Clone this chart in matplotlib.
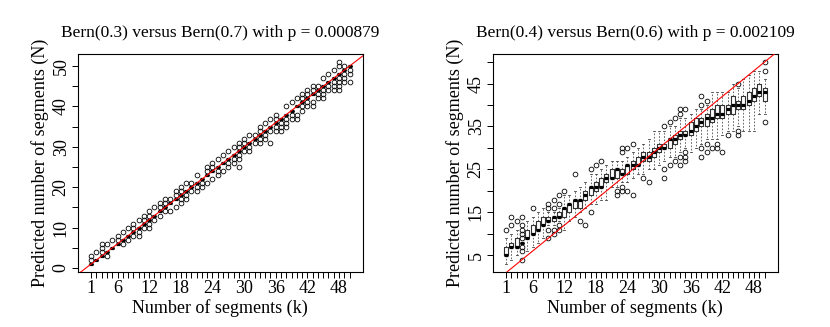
import numpy as np
import matplotlib
matplotlib.use("Agg")
import matplotlib.pyplot as plt

# ---- data ----
k_values = list(range(1, 51))
xtick_labels = {1: "1", 6: "6", 12: "12", 18: "18", 24: "24", 30: "30", 36: "36", 42: "42", 48: "48"}

# left panel: Bern(0.3) vs Bern(0.7) -- boxes are flat at the median
left_title = "Bern(0.3) versus Bern(0.7) with p = 0.000879"
left_med = [1, 2, 3, 4, 5, 6, 7, 8, 9, 10, 11, 12, 13, 14, 15, 16, 17, 18, 19, 20,
            21, 22, 23, 24, 25, 26, 27, 28, 29, 30, 31, 32, 33, 34, 35, 36, 37, 38, 39, 40,
            41, 42, 43, 44, 45, 46, 47, 48, 49, 50]
left_fliers = [
    [2, 3], [4], [4, 5, 6], [3, 6], [7], [7, 8], [6, 9], [7, 10], [8, 10, 11], [8, 9, 12],
    [10, 12, 13], [10, 11, 13, 14], [12, 15], [13, 15, 16], [14, 16, 17], [14, 17],
    [15, 18, 19], [16, 17, 19, 20], [17, 18, 21], [19, 21], [19, 20, 23], [20, 21],
    [21, 24, 25], [22, 25, 26], [23, 24, 27], [24, 28], [25, 26, 29], [26, 27, 30],
    [25, 27, 28, 30, 31], [29, 31, 32], [29, 30, 33], [31, 33], [31, 32, 34, 35],
    [32, 33, 36], [31, 34, 37], [34, 35, 37, 38], [34, 35, 36], [35, 36, 37, 40],
    [37, 38, 41], [37, 38, 42], [39, 40, 42, 43], [40, 41, 43, 44], [40, 41, 44, 45],
    [42, 43, 45], [42, 43, 44, 47], [44, 45, 48], [44, 45, 46, 49],
    [44, 45, 46, 47, 50, 51], [46, 47, 48, 50], [46, 48, 49],
]

# right panel: Bern(0.4) vs Bern(0.6)
right_title = "Bern(0.4) versus Bern(0.6) with p = 0.002109"
right_med = [5, 7, 7, 8, 9, 10, 11, 12, 13, 14, 14, 16, 17, 18, 18, 19, 21, 21, 21, 23,
             23, 25, 24, 26, 26, 26, 28, 28, 29, 30, 30, 32, 32, 33, 33, 34, 35, 36, 37, 37,
             38, 38, 39, 40, 40, 40, 41, 42, 43, 43]
right_q1 = [5, 7, 7, 8, 9, 10, 11, 12, 13, 13, 14, 14, 15, 16, 16, 18, 19, 20, 21, 22,
            23, 23, 24, 24, 25, 26, 27, 27, 28, 29, 30, 30, 31, 32, 33, 33, 34, 35, 35, 36,
            37, 37, 38, 38, 39, 39, 40, 41, 42, 41]
right_q3 = [7, 8, 9, 8, 11, 12, 13, 14, 14, 14, 15, 16, 17, 18, 18, 20, 21, 22, 23, 24,
            25, 25, 25, 26, 27, 28, 29, 29, 30, 31, 31, 32, 33, 34, 34, 36, 37, 37, 38, 39,
            40, 40, 40, 42, 41, 42, 43, 44, 45, 44]
right_lo = [3, 4, 5, 8, 6, 7, 8, 9, 12, 12, 13, 11, 13, 14, 15, 16, 17, 17, 18, 18,
            21, 21, 22, 22, 23, 24, 24, 25, 25, 26, 27, 28, 28, 29, 30, 29, 30, 31, 32, 32,
            32, 33, 34, 34, 35, 34, 34, 34, 38, 38]
right_hi = [9, 10, 11, 8, 13, 14, 15, 16, 15, 15, 16, 19, 19, 20, 21, 22, 24, 24, 25, 26,
            27, 27, 27, 28, 29, 30, 31, 32, 34, 34, 34, 35, 35, 37, 37, 38, 39, 39, 40, 43,
            43, 43, 43, 45, 44, 46, 47, 48, 48, 46]
right_fliers = [
    [11], [12, 14], [13], [4, 6, 7, 9, 10, 11, 12, 14], [], [16], [], [], [9, 11, 16, 17],
    [10, 11, 16, 18], [11, 12, 17, 19], [20], [], [24], [13], [12], [15, 25], [26], [27],
    [], [], [19, 20], [20, 21, 29, 30], [20, 30], [19, 31], [], [23], [22], [], [],
    [23, 25, 35], [26, 36], [27, 37], [26, 28, 38, 39], [27, 28, 29, 39], [], [],
    [28, 30, 40, 42], [29, 31, 41], [30], [30, 31], [29], [33], [], [33, 34, 45], [], [],
    [], [], [36, 48, 50],
]

plt.rcParams["font.family"] = ["Liberation Serif", "DejaVu Serif"]

fig = plt.figure(figsize=(8.3, 3.27), dpi=100)
ax_l = fig.add_axes([0.094, 0.168, 0.343, 0.667])
ax_r = fig.add_axes([0.594, 0.168, 0.343, 0.667])


def draw_panel(ax, title, med, q1, q3, lo, hi, fliers, yticks, ylabels):
    stats = []
    for i in range(len(k_values)):
        stats.append({"med": med[i], "q1": q1[i], "q3": q3[i],
                      "whislo": lo[i], "whishi": hi[i], "fliers": fliers[i]})
    ax.bxp(stats, positions=k_values, widths=0.76, capwidths=0.38,
           boxprops=dict(color="0.2", linewidth=0.8),
           whiskerprops=dict(color="0.3", linewidth=0.6, linestyle=(0, (2, 2))),
           capprops=dict(color="0.25", linewidth=0.6),
           medianprops=dict(color="black", linewidth=2.3, solid_capstyle="butt"),
           flierprops=dict(marker="o", markerfacecolor="none", markeredgecolor="black",
                           markersize=3.4, markeredgewidth=0.6, linestyle="none"),
           manage_ticks=False)
    ax.axline((0, 0), slope=1, color="red", linewidth=0.8, zorder=5)

    # R style limits: data range padded by 4%
    all_vals = lo + hi + med + [v for f in fliers for v in f]
    ymin, ymax = min(all_vals), max(all_vals)
    pad = 0.04 * (ymax - ymin)
    ax.set_ylim(ymin - pad, ymax + pad)
    ax.set_xlim(0.5 - 2, 50.5 + 2)

    ax.set_xticks(k_values)
    ax.set_xticklabels([xtick_labels.get(k, "") for k in k_values])
    ax.set_yticks(yticks)
    ax.set_yticklabels(ylabels, rotation=90, va="center")
    ax.tick_params(direction="out", length=4, width=0.7, labelsize=13, pad=2)
    for s in ax.spines.values():
        s.set_linewidth(0.8)

    ax.set_title(title, fontsize=12.5, pad=12)
    ax.set_xlabel("Number of segments (k)", fontsize=13, labelpad=1)
    ax.set_ylabel("Predicted number of segments (N)", fontsize=13, labelpad=3)


draw_panel(ax_l, left_title, left_med, left_med, left_med, left_med, left_med, left_fliers,
           [0, 5, 10, 15, 20, 25, 30, 35, 40, 45, 50],
           ["0", "", "10", "", "20", "", "30", "", "40", "", "50"])
draw_panel(ax_r, right_title, right_med, right_q1, right_q3, right_lo, right_hi, right_fliers,
           [5, 10, 15, 20, 25, 30, 35, 40, 45, 50],
           ["5", "", "15", "", "25", "", "35", "", "45", ""])

plt.savefig("out.png", dpi=100)
